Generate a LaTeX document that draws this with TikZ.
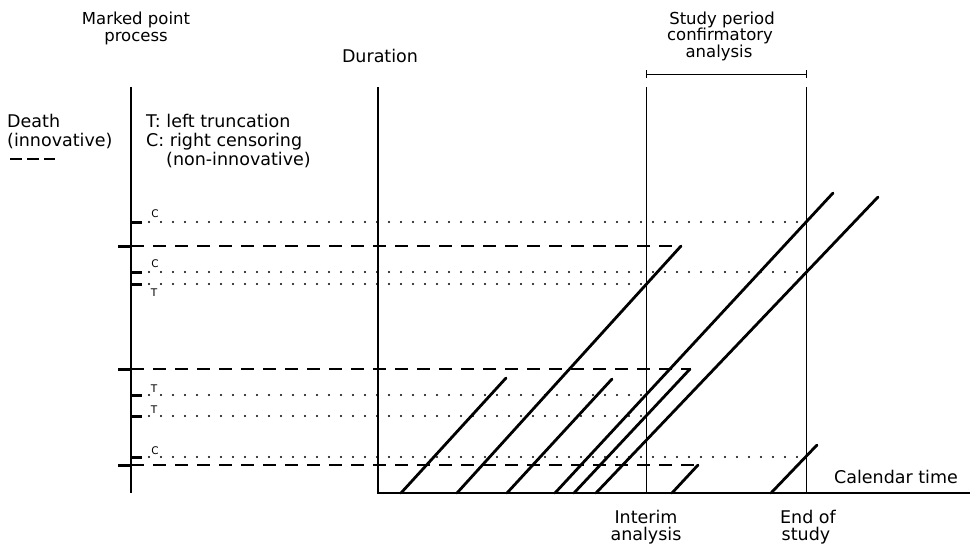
\documentclass[tikz,border=0pt]{standalone}
\usepackage{fontspec}
\setmainfont{DejaVu Sans}
\usetikzlibrary{calc}
\begin{document}
\begin{tikzpicture}[x=1pt,y=-1pt,
  lbl/.style={inner sep=0pt, anchor=base, font=\fontsize{17.5}{17.5}\selectfont},
  headlbl/.style={inner sep=0pt, anchor=base, font=\fontsize{16.5}{16.5}\selectfont},
  lblw/.style={lbl, anchor=base west},
  evlbl/.style={inner sep=0pt, anchor=base, font=\fontsize{10.5}{10.5}\selectfont},
  axisline/.style={line width=1.3pt},
  refline/.style={line width=1pt},
  life/.style={line width=2.8pt, line cap=round},
  deathline/.style={line width=1.4pt, dash pattern=on 13pt off 9pt},
  censline/.style={line width=2.2pt, line cap=round, dash pattern=on 0pt off 12pt},
  evtick/.style={line width=3pt},
]
\useasboundingbox (0,0) rectangle (972,547);

% axes
\coordinate (mTop) at (131,87);
\coordinate (mBot) at (131,493);
\coordinate (dTop) at (378,87);
\coordinate (orig) at (378,493);
\coordinate (tEnd) at (970,493);
\coordinate (iTop) at (646,87);
\coordinate (iBot) at (646,493);
\coordinate (eTop) at (806,87);
\coordinate (eBot) at (806,493);

\draw[axisline] (mTop) -- (mBot);
\draw[axisline] (dTop) -- (orig) -- (tEnd);
\draw[refline] (iTop) -- (iBot);
\draw[refline] (eTop) -- (eBot);

% study period bracket
\coordinate (spL) at (646,74);
\coordinate (spR) at (806,74);
\draw[refline] (spL) -- (spR);
\draw[refline] ($(spL)+(0,-4)$) -- ($(spL)+(0,4)$);
\draw[refline] ($(spR)+(0,-4)$) -- ($(spR)+(0,4)$);

% individual life lines (entry on calendar axis, slope = ageing)
\coordinate (s1) at (401,493); \coordinate (e1) at (506,378);
\coordinate (s2) at (457,493); \coordinate (e2) at (681,246);
\coordinate (s3) at (507,493); \coordinate (e3) at (612,379);
\coordinate (s4) at (555,493); \coordinate (e4) at (833,193);
\coordinate (s5) at (574,493); \coordinate (e5) at (690,369);
\coordinate (s6) at (596,493); \coordinate (e6) at (878,197);
\coordinate (s7) at (672,493); \coordinate (e7) at (698,465);
\coordinate (s8) at (771,493); \coordinate (e8) at (817,445);
\foreach \i in {1,...,8} { \draw[life] (s\i) -- (e\i); }

% deaths (innovative events)
\foreach \e in {e2,e5,e7} {
  \draw[deathline] (mBot |- \e) -- (\e);
  \draw[evtick] ($(mBot |- \e)+(-13,0)$) -- (mBot |- \e);
}

% truncation / censoring points
\coordinate (c1) at (806,222);
\coordinate (c2) at (806,272);
\coordinate (t1) at (646,284);
\coordinate (t2) at (646,395);
\coordinate (t3) at (646,416);
\coordinate (c3) at (806,457);
\foreach \p in {c1,c2,t1,t2,t3,c3} {
  \draw[evtick] (mBot |- \p) -- ($(mBot |- \p)+(11,0)$);
  \draw[censline] ($(mBot |- \p)+(18,0)$) -- (\p);
}
\node[evlbl] (lc1) at (155,217) {C};
\node[evlbl] (lc2) at (155,267) {C};
\node[evlbl] (lt1) at (154,296) {T};
\node[evlbl] (lt2) at (154,392) {T};
\node[evlbl] (lt3) at (154,413) {T};
\node[evlbl] (lc3) at (155,454) {C};

% headings
\node[headlbl] (mpp1) at (136,24) {Marked point};
\node[headlbl] (mpp2) at (136,41) {process};
\node[lbl] (dur) at (380,62) {Duration};
\node[headlbl] (sp1) at (722,24) {Study period};
\node[headlbl] (sp2) at (720,40.5) {confirmatory};
\node[headlbl] (sp3) at (719,57) {analysis};

% legend
\node[lblw] (dth1) at (7,127) {Death};
\node[lblw] (dth2) at (7,146) {(innovative)};
\coordinate (dk1) at (10,159);
\coordinate (dk2) at (55,159);
\draw[line width=1.4pt, dash pattern=on 12pt off 5pt] (dk1) -- (dk2);
\node[lblw] (lgT) at (146,127) {T: left truncation};
\node[lblw] (lgC) at (146,146) {C: right censoring};
\node[lblw] (lgN) at (166,165) {(non-innovative)};

% axis labels
\node[lbl] (cal) at (896,483) {Calendar time};
\node[lbl] (int1) at (646,523) {Interim};
\node[lbl] (int2) at (646,540) {analysis};
\node[lbl] (eos1) at (808,523) {End of};
\node[lbl] (eos2) at (806,540) {study};
\end{tikzpicture}
\end{document}
